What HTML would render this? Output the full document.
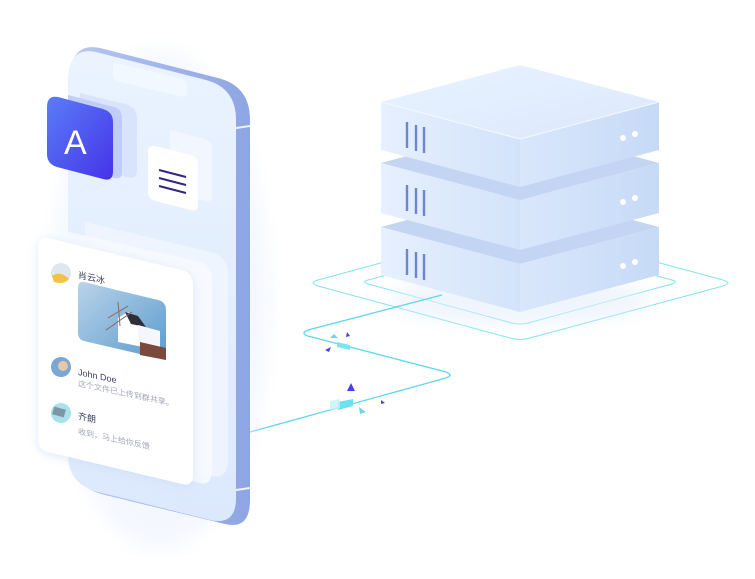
<!DOCTYPE html>
<html><head><meta charset="utf-8"><style>
html,body{margin:0;padding:0;background:#fff;}
svg{display:block}
text{font-family:"Liberation Sans","Noto Sans CJK SC",sans-serif;}
</style></head><body>
<svg width="755" height="579" viewBox="0 0 755 579" xmlns="http://www.w3.org/2000/svg">
<defs>
<linearGradient id="face" x1="0" y1="0" x2="1" y2="0"><stop offset="0" stop-color="#e6f0fe"/><stop offset="1" stop-color="#d3e3fa"/></linearGradient>
<linearGradient id="rface" x1="0" y1="0" x2="1" y2="0"><stop offset="0" stop-color="#d9e7fc"/><stop offset="1" stop-color="#c6daf6"/></linearGradient>
<linearGradient id="top" x1="0" y1="0" x2="1" y2="1"><stop offset="0" stop-color="#e9f3ff"/><stop offset="1" stop-color="#dbe8fc"/></linearGradient>
<linearGradient id="blue" x1="0" y1="0" x2="1" y2="1"><stop offset="0" stop-color="#5a7df7"/><stop offset="1" stop-color="#4533e8"/></linearGradient>
<linearGradient id="sky" x1="0" y1="0" x2="1" y2="1"><stop offset="0" stop-color="#b9d3ea"/><stop offset="1" stop-color="#5c9bcc"/></linearGradient>
<linearGradient id="side" x1="0" y1="0" x2="1" y2="0"><stop offset="0" stop-color="#b7c7f0"/><stop offset="1" stop-color="#8ea5e3"/></linearGradient>
<linearGradient id="screen" x1="0" y1="0" x2="0" y2="1"><stop offset="0" stop-color="#eaf3ff"/><stop offset="1" stop-color="#dce9fd"/></linearGradient>
<filter id="sh" x="-20%" y="-20%" width="140%" height="140%"><feGaussianBlur stdDeviation="8"/></filter>
<filter id="cs" x="-30%" y="-30%" width="160%" height="160%"><feGaussianBlur stdDeviation="5"/></filter>
</defs>

<!-- platform rings -->
<g fill="none" stroke="#7fe3ef" stroke-width="1">
<path d="M318,280 L510,228 Q520,225 530,228 L723,280 Q733,283 723,286 L530,338 Q520,341 510,338 L318,286 Q308,283 318,280Z"/>
<path d="M368,280 L512,241 Q520,239 528,241 L672,280 Q679,282 672,284 L528,323 Q520,325 512,323 L368,284 Q361,282 368,280Z"/>
</g>
<ellipse cx="520" cy="300" rx="130" ry="25" fill="#e6effc" opacity=".6" filter="url(#sh)"/>

<!-- cable -->
<g fill="none" stroke="#5fd6ee" stroke-width="1.3">
<path d="M442,295 L308,330 Q300,333 308,336 L446,372 Q454,375 446,378 L250,432"/>
</g>
<g>
<polygon points="337,342 350,345 350,350 337,347" fill="#7fe4f2"/>
<polygon points="338,402 353,399 353,406 338,410" fill="#6ee0f0"/>
<polygon points="330,401 340,399 340,408 330,410" fill="#c6f3fa" opacity=".8"/>
<polygon points="334,334 330,338 338,338" fill="#6fd6ea"/>
<polygon points="347,332 350,336 346,337" fill="#4a3ff0"/>
<polygon points="331,347 329,352 325,350" fill="#4a3ff0"/>
<polygon points="351,383 355,391 347,391" fill="#4a3ff0"/>
<polygon points="359,407 366,412 360,414" fill="#6fd6ea"/>
<polygon points="381,400 385,403 381,404" fill="#4a3ff0"/>
</g>

<!-- server -->
<g>
<polygon points="381,227 520,190 659,227 520,264" fill="#c3d5f2"/>
<polygon points="381,227 520,264 520,312 381,275" fill="url(#face)"/>
<polygon points="520,264 659,227 659,275 520,312" fill="url(#rface)"/>
<polygon points="381,163 520,126 659,163 520,200" fill="#c3d5f2"/>
<polygon points="381,163 520,200 520,250 381,213" fill="url(#face)"/>
<polygon points="520,200 659,163 659,213 520,250" fill="url(#rface)"/>
<polygon points="381,102 520,65 659,102 520,139" fill="url(#top)"/>
<polygon points="381,102 520,139 520,187 381,150" fill="url(#face)"/>
<polygon points="520,139 659,102 659,150 520,187" fill="url(#rface)"/>
<path d="M381,102 L520,139 L659,102" fill="none" stroke="#f5f9ff" stroke-width="1"/>
</g>
<g stroke="#6f86cc" stroke-width="2.4">
<line x1="407" y1="122" x2="407" y2="148"/><line x1="416" y1="125" x2="416" y2="151"/><line x1="424" y1="127" x2="424" y2="153"/>
<line x1="407" y1="185" x2="407" y2="211"/><line x1="416" y1="188" x2="416" y2="214"/><line x1="424" y1="190" x2="424" y2="216"/>
<line x1="407" y1="249" x2="407" y2="275"/><line x1="416" y1="252" x2="416" y2="278"/><line x1="424" y1="254" x2="424" y2="280"/>
</g>
<g fill="#fff">
<circle cx="623" cy="138" r="3"/><circle cx="635" cy="134" r="3"/>
<circle cx="623" cy="202" r="3"/><circle cx="635" cy="198" r="3"/>
<circle cx="623" cy="266" r="3"/><circle cx="635" cy="262" r="3"/>
</g>

<!-- phone -->
<ellipse cx="160" cy="300" rx="110" ry="250" fill="#eef4fe" opacity=".6" filter="url(#sh)"/>
<path d="M100,48 L218,78 Q250,86 250,120 L250,500 Q250,530 225,524 L105,495 Q70,486 70,455 L70,80 Q70,42 100,48Z" fill="url(#side)"/>
<path d="M96,52 L206,80 Q236,88 236,120 L236,498 Q236,526 210,520 L98,492 Q68,484 68,455 L68,82 Q68,46 96,52Z" fill="url(#screen)"/>
<line x1="236" y1="128" x2="250" y2="126" stroke="#eef3ff" stroke-width="2"/>
<line x1="236" y1="490" x2="250" y2="488" stroke="#eef3ff" stroke-width="2"/>
<path d="M113,62 L180,78 Q187,80 187,86 L187,92 Q187,98 180,96 L120,82 Q113,80 113,74Z" fill="#f3f8ff" opacity=".9"/>

<!-- A icon -->
<path d="M80,93 L125,104 Q137,107 137,118 L137,170 Q137,180 127,177 L82,166 Q75,164 75,156Z" fill="#d4ddfb" opacity=".7"/>
<path d="M68,95 L114,107 Q122,109 122,118 L122,172 Q122,180 114,178 L68,167Z" fill="#b9c6fa" opacity=".8"/>
<path d="M58,97 L103,109 Q113,112 113,122 L113,171 Q113,182 103,179 L57,167 Q47,164 47,154 L47,107 Q47,95 58,97Z" fill="url(#blue)"/>
<text x="0" y="0" transform="translate(64,154)" font-size="34" fill="#fff">A</text>

<!-- menu icon -->
<path d="M170,130 L205,139 Q212,141 212,148 L212,196 Q212,203 205,201 L170,192Z" fill="#f3f7ff" opacity=".9"/>
<path d="M155,146 L191,155 Q198,157 198,164 L198,205 Q198,212 191,210 L155,201 Q148,199 148,192 L148,152 Q148,145 155,146Z" fill="#fff"/>
<g stroke="#32267d" stroke-width="2"><line x1="159" y1="170" x2="186" y2="177"/><line x1="159" y1="178" x2="186" y2="185"/><line x1="159" y1="186" x2="186" y2="193"/></g>

<!-- back cards -->
<path d="M85,222 L210,252 Q228,256 228,275 L228,460 Q228,480 210,476 L85,446Z" fill="#f1f6ff" opacity=".85"/>
<path d="M60,230 L200,262 Q212,265 212,280 L212,470 Q212,486 200,483 L60,451Z" fill="#f6f9ff" opacity=".9"/>
<!-- main card -->
<path d="M48,240 L182,272 Q193,275 193,287 L193,477 Q193,489 182,486 L48,454 Q38,452 38,440 L38,250 Q38,238 48,240Z" fill="#c9d9f5" opacity=".6" filter="url(#cs)"/>
<path d="M48,238 L182,270 Q193,273 193,285 L193,475 Q193,487 182,484 L48,452 Q38,450 38,438 L38,248 Q38,236 48,238Z" fill="#fff"/>

<!-- avatars -->
<circle cx="61" cy="273" r="10" fill="#dfe6ee"/><path d="M52,276 Q60,270 69,279 Q63,285 54,282Z" fill="#f4c242"/>
<circle cx="61" cy="367" r="10" fill="#7aa7d4"/><circle cx="63" cy="366" r="5" fill="#e9c7a8"/>
<circle cx="61" cy="413" r="10" fill="#a8e0ec"/><rect x="53" y="408" width="12" height="8" fill="#7c96a6" transform="rotate(15 59 412)"/>

<!-- photo -->
<path d="M84,282 L158,300 Q166,302 166,310 L166,360 L84,341 Q78,339 78,333 L78,288 Q78,281 84,282Z" fill="url(#sky)"/>
<polygon points="118,318 128,312 138,322 138,346 118,342" fill="#fff"/>
<polygon points="125,312 138,316 146,327 131,324" fill="#2e2e3a"/>
<polygon points="138,325 160,331 160,350 138,346" fill="#f5f7fa"/>
<polygon points="140,342 166,348 166,360 140,355" fill="#7a4a3c"/>
<g stroke="#8b6a60" stroke-width="1"><line x1="108" y1="318" x2="128" y2="306"/><line x1="118" y1="302" x2="120" y2="326"/><line x1="106" y1="330" x2="132" y2="312"/></g>

<!-- texts -->
<g fill="#3a3f5c">
<text transform="translate(78,278) skewY(12)" font-size="9">肖云冰</text>
<text transform="translate(78,375) skewY(12)" font-size="9">John Doe</text>
<text transform="translate(78,419) skewY(12)" font-size="9">齐朗</text>
</g>
<g fill="#a3a8b8">
<text transform="translate(78,386) skewY(12)" font-size="8">这个文件已上传到群共享。</text>
<text transform="translate(78,434) skewY(12)" font-size="8">收到，马上给你反馈</text>
</g>
</svg>
</body></html>
